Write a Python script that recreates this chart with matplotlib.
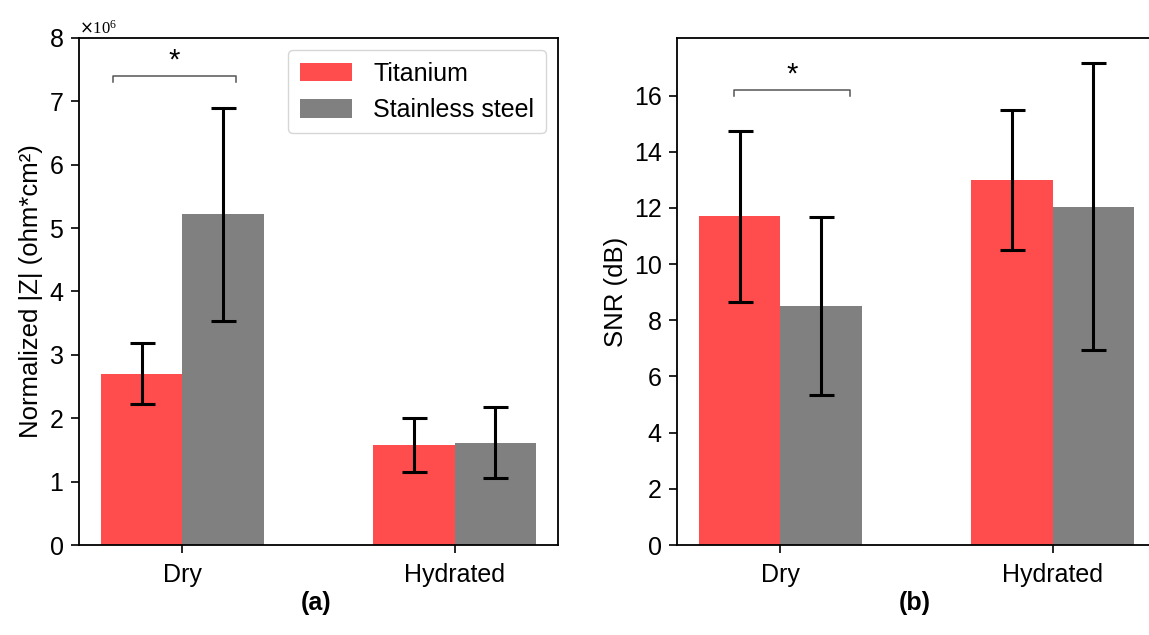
import matplotlib
matplotlib.use('Agg')
import matplotlib.pyplot as plt
from matplotlib.ticker import ScalarFormatter
import numpy as np

plt.rcParams['font.family'] = ['Liberation Sans', 'DejaVu Sans']

# data
conditions = ['Dry', 'Hydrated']
series = ['Titanium', 'Stainless steel']
colors = ['#FF4C4C', '#808080']

imp_ti = [2.70e6, 1.58e6]
imp_ti_err = [0.48e6, 0.43e6]
imp_ss = [5.22e6, 1.61e6]
imp_ss_err = [1.68e6, 0.56e6]

snr_ti = [11.7, 13.0]
snr_ti_err = [3.05, 2.5]
snr_ss = [8.5, 12.05]
snr_ss_err = [3.17, 5.1]

# significance brackets (x0, x1, y, tick drop)
sig_a = [-0.255, 0.195, 7.4e6, 0.1e6]
sig_b = [-0.17, 0.255, 16.2, 0.22]

fig = plt.figure(figsize=(11.49, 6.35), dpi=100)
ax1 = fig.add_axes([0.0688, 0.1417, 0.4169, 0.7985])
ax2 = fig.add_axes([0.5892, 0.1417, 0.4169, 0.7985])

x = np.arange(len(conditions))
w = 0.3
err_kw = dict(ecolor='black', elinewidth=2.2, capsize=9, capthick=2.2)


def draw(ax, ti, ti_err, ss, ss_err):
    ax.bar(x - w / 2, ti, w, color=colors[0], label=series[0])
    ax.bar(x + w / 2, ss, w, color=colors[1], label=series[1])
    ax.errorbar(x - w / 2, ti, yerr=ti_err, fmt='none', **err_kw)
    ax.errorbar(x + w / 2, ss, yerr=ss_err, fmt='none', **err_kw)
    ax.set_xticks(x)
    ax.set_xticklabels(conditions, fontsize=18)
    ax.tick_params(axis='both', labelsize=18, length=6, width=1.2)
    ax.tick_params(axis='x', pad=7)
    ax.tick_params(axis='y', pad=5)
    for s in ax.spines.values():
        s.set_linewidth(1.3)
    ax.set_xlim(-0.38, 1.38)


def bracket(ax, b):
    x0, x1, y, d = b
    ax.plot([x0, x0, x1, x1], [y - d, y, y, y - d], color='#555555', lw=1.1)
    ax.text((x0 + x1) / 2, y + d * 0.3, '*', ha='center', va='bottom', fontsize=21)


draw(ax1, imp_ti, imp_ti_err, imp_ss, imp_ss_err)
ax1.set_ylim(0, 8e6)
fmt = ScalarFormatter(useMathText=True)
fmt.set_powerlimits((0, 0))
ax1.yaxis.set_major_formatter(fmt)
ax1.yaxis.get_offset_text().set_fontsize(12)
ax1.yaxis.get_offset_text().set_fontfamily('Liberation Serif')
ax1.set_ylabel('Normalized |Z| (ohm*cm²)', fontsize=18.5)
bracket(ax1, sig_a)
leg = ax1.legend(loc='upper right', fontsize=18, handlelength=2.1, handleheight=0.75,
                 handletextpad=0.85, borderpad=0.45, labelspacing=0.5, fancybox=True)
leg.get_frame().set_edgecolor('#cccccc')

draw(ax2, snr_ti, snr_ti_err, snr_ss, snr_ss_err)
ax2.set_ylim(0, 18.05)
ax2.set_yticks(np.arange(0, 17, 2))
ax2.set_ylabel('SNR (dB)', fontsize=18.5)
bracket(ax2, sig_b)

fig.text(0.275, 0.05, '(a)', ha='center', va='center', fontsize=18, fontweight='bold')
fig.text(0.796, 0.05, '(b)', ha='center', va='center', fontsize=18, fontweight='bold')

fig.savefig('out.png', dpi=100)
